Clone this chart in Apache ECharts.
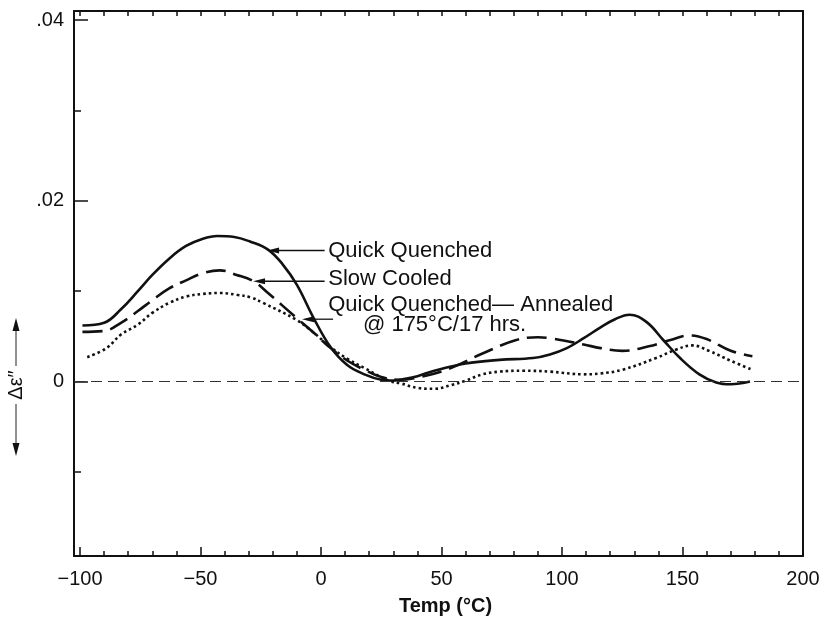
<!DOCTYPE html>
<html><head><meta charset="utf-8">
<script src="https://cdn.jsdelivr.net/npm/echarts@6/dist/echarts.min.js"></script>
<style>html,body{margin:0;padding:0;background:#fff}#c{width:826px;height:621px}</style>
</head><body><div id="c"></div><script>
// ---- data ----
const qqTemp = [-99,-90,-83,-76,-70,-63,-56,-49,-43,-36,-29.5,-22,-16,-10,-3,4,11,18,25,30,35,40,47,60,74,88,95,102,109,116,122,128,135,142,149,157,164,170,178];
const qqVal  = [0.0062,0.0065,0.0080,0.0100,0.0118,0.0136,0.0150,0.0158,0.0161,0.0160,0.0155,0.0146,0.0130,0.0107,0.0070,0.0038,0.0018,0.0008,0.0002,0.0001,0.0003,0.0006,0.0012,0.0020,0.0024,0.0026,0.0030,0.0037,0.0048,0.0060,0.0069,0.0074,0.0066,0.0046,0.0026,0.0008,-0.0001,-0.0003,0.0000];
const scTemp = [-99,-90,-83,-76,-70,-63,-56,-49,-42,-35,-28,-22,-10,-3,4,11,18,25,32,41,53,67,81,90,95,109,116,125,136,145,153,160,170,179];
const scVal  = [0.0055,0.0056,0.0065,0.0078,0.0090,0.0103,0.0112,0.0120,0.0123,0.0118,0.0111,0.0098,0.0070,0.0054,0.0037,0.0023,0.0013,0.0005,0.0002,0.0005,0.0014,0.0031,0.0046,0.0049,0.0048,0.0041,0.0037,0.0034,0.0039,0.0046,0.0051,0.0047,0.0034,0.0028];
const anTemp = [-97,-89,-83,-76,-70,-63,-56,-49,-42,-35,-29,-24,-10,-3,4,11,18,28,33,40,47,54,60,67,74,84,95,109,116,125,139,147,154,161,170,179];
const anVal  = [0.0027,0.0037,0.0052,0.0063,0.0076,0.0087,0.0094,0.0097,0.0098,0.0096,0.0093,0.0087,0.0068,0.0054,0.0038,0.0025,0.0015,0.0001,-0.0002,-0.0007,-0.0008,-0.0004,0.0001,0.0008,0.0011,0.0012,0.0011,0.0008,0.0009,0.0013,0.0026,0.0035,0.0040,0.0034,0.0023,0.0013];
const xMajor = [-100,-50,0,50,100,150,200];
const xMinor = [-90,-80,-70,-60,-40,-30,-20,-10,10,20,30,40,60,70,80,90,110,120,130,140,160,170,180,190];
const yMajor = [0,0.02,0.04];
const yMinor = [-0.01,0.01,0.03];
const seriesNames = ['Quick Quenched','Slow Cooled','Quick Quenched— Annealed'];

// annotation anchors (data coordinates)
const notes = [
  {text:'Quick Quenched', at:[3,0.0145], from:[1.5,0.0145], to:[-22.4,0.0145]},
  {text:'Slow Cooled', at:[3,0.01132], from:[1.5,0.0111], to:[-28.2,0.0111]},
  {text:'Quick Quenched— Annealed', at:[3,0.00846], from:[5,0.0069], to:[-7.9,0.0069]},
  {text:'@ 175°C/17 hrs.', at:[17.4,0.00626]}
];

const FONT = '"Liberation Sans", Arial, Helvetica, sans-serif';
const zip = (a,b)=>a.map((x,i)=>[x,b[i]]);
const XMIN=-102.5, XMAX=200, YMIN=-0.0193, YMAX=0.041;
const fmtX = v => v<0 ? '\u2212'+(-v) : String(v);
const fmtY = v => Math.abs(v)<1e-9 ? '0' : ('.'+String(Math.round(v*100)).padStart(2,'0'));

const chart = echarts.init(document.getElementById('c'));
const baseX = {type:'value', min:XMIN, max:XMAX, splitLine:{show:false}};
const baseY = {type:'value', min:YMIN, max:YMAX, splitLine:{show:false}};
chart.setOption({
  animation:false,
  backgroundColor:'#fff',
  grid:{left:74, right:23, top:11, bottom:61, show:false},
  xAxis:[
    Object.assign({}, baseX, {position:'bottom',
      axisLine:{show:true, onZero:false, lineStyle:{color:'#111', width:2}},
      axisTick:{show:true, inside:true, length:9, customValues:xMajor, lineStyle:{color:'#111', width:1.5}},
      axisLabel:{show:true, customValues:xMajor, formatter:fmtX, fontSize:20, color:'#111', fontFamily:FONT, margin:13},
      name:'Temp (°C)', nameLocation:'middle', nameGap:40,
      nameTextStyle:{fontSize:20, fontWeight:'bold', color:'#111', fontFamily:FONT, padding:[0,0,0,14]}}),
    Object.assign({}, baseX, {position:'bottom',
      axisLine:{show:false, onZero:false},
      axisTick:{show:true, inside:true, length:5, customValues:xMinor, lineStyle:{color:'#111', width:1.5}},
      axisLabel:{show:false}}),
    Object.assign({}, baseX, {position:'top',
      axisLine:{show:true, onZero:false, lineStyle:{color:'#111', width:2}},
      axisTick:{show:true, inside:true, length:5, customValues:xMinor.concat(xMajor), lineStyle:{color:'#111', width:1.5}},
      axisLabel:{show:false}})
  ],
  yAxis:[
    Object.assign({}, baseY, {position:'left',
      axisLine:{show:true, onZero:false, lineStyle:{color:'#111', width:2}},
      axisTick:{show:true, inside:true, length:14, customValues:yMajor, lineStyle:{color:'#111', width:1.5}},
      axisLabel:{show:true, customValues:yMajor, formatter:fmtY, fontSize:20, color:'#111', fontFamily:FONT, margin:10}}),
    Object.assign({}, baseY, {position:'left',
      axisLine:{show:false, onZero:false},
      axisTick:{show:true, inside:true, length:7, customValues:yMinor, lineStyle:{color:'#111', width:1.5}},
      axisLabel:{show:false}}),
    Object.assign({}, baseY, {position:'right',
      axisLine:{show:true, onZero:false, lineStyle:{color:'#111', width:2}},
      axisTick:{show:false}, axisLabel:{show:false}})
  ],
  series:[
    {name:seriesNames[0], type:'line', data:zip(qqTemp,qqVal), smooth:0.4, showSymbol:false, silent:true,
     lineStyle:{color:'#111', width:2.6},
     markLine:{silent:true, symbol:'none', label:{show:false},
       lineStyle:{color:'#333', width:1, type:[11,6]}, data:[{yAxis:0}]}},
    {name:seriesNames[1], type:'line', data:zip(scTemp,scVal), smooth:0.4, showSymbol:false, silent:true,
     lineStyle:{color:'#111', width:2.6, type:[20,8]}},
    {name:seriesNames[2], type:'line', data:zip(anTemp,anVal), smooth:0.4, showSymbol:false, silent:true,
     lineStyle:{color:'#111', width:2.6, type:[2.6,3], cap:'butt'}}
  ]
});

// annotations and y-axis title
const px = p => chart.convertToPixel({gridIndex:0}, p);
const g = [];
notes.forEach(n=>{
  const t = px(n.at);
  g.push({type:'text', x:t[0], y:t[1], style:{text:n.text, font:'22px '+FONT, fill:'#111', align:'left', verticalAlign:'middle'}});
  if(n.from){
    const a = px(n.from), b = px(n.to);
    g.push({type:'line', shape:{x1:a[0], y1:a[1], x2:b[0]+8, y2:b[1]}, style:{stroke:'#111', lineWidth:1.3}});
    g.push({type:'polygon', shape:{points:[[b[0],b[1]],[b[0]+12,b[1]-3],[b[0]+12,b[1]+3]]}, style:{fill:'#111'}});
  }
});
// y-axis title (double arrow with rotated symbol)
const ax = 16;
g.push({type:'line', shape:{x1:ax, y1:328, x2:ax, y2:366}, style:{stroke:'#222', lineWidth:1}});
g.push({type:'polygon', shape:{points:[[ax,318],[ax-3.5,331],[ax+3.5,331]]}, style:{fill:'#111'}});
g.push({type:'line', shape:{x1:ax, y1:404, x2:ax, y2:446}, style:{stroke:'#222', lineWidth:1}});
g.push({type:'polygon', shape:{points:[[ax,456],[ax-3.5,443],[ax+3.5,443]]}, style:{fill:'#111'}});
g.push({type:'text', x:ax, y:385, rotation:Math.PI/2, style:{text:'Δε″', font:'20px '+FONT, fill:'#111', align:'center', verticalAlign:'middle'}});
chart.setOption({graphic:g});
</script></body></html>
